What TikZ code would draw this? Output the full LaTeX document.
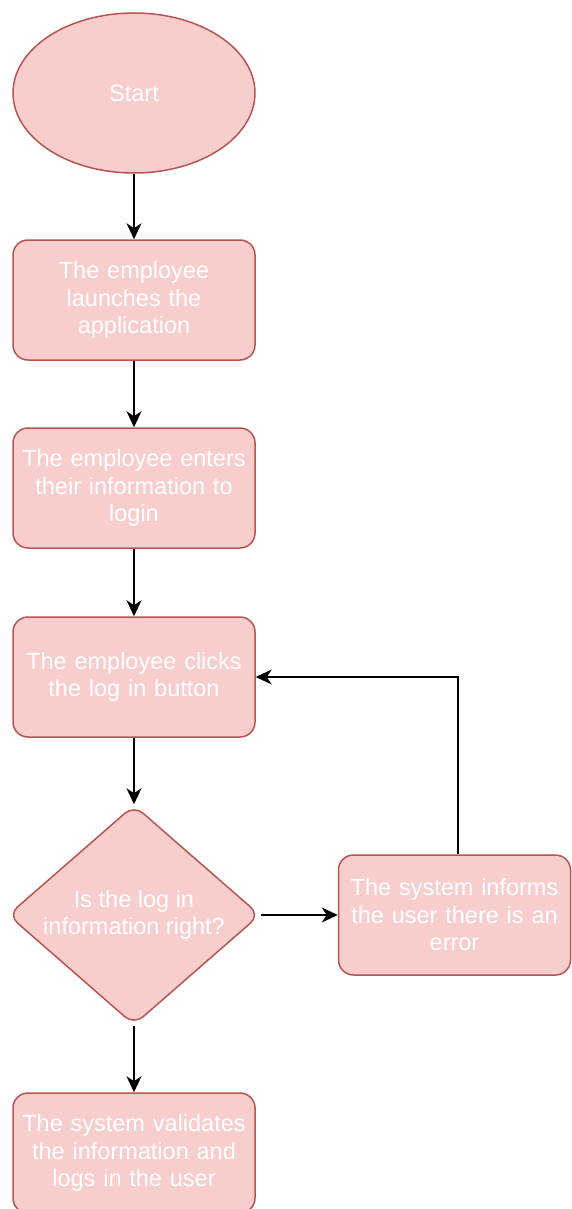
\documentclass[tikz,border=0pt]{standalone}
\usepackage{fontspec}
\setmainfont{Liberation Sans}
\usetikzlibrary{arrows.meta,shapes.geometric}
\definecolor{boxfill}{HTML}{F8CECC}
\definecolor{boxline}{HTML}{B85450}
\begin{document}
\begin{tikzpicture}[x=1pt,y=-1pt]
\tikzset{
  nodefont/.style={text=white, font=\fontsize{23.5}{27.5}\selectfont},
  flowbox/.style={draw=boxline, fill=boxfill, line width=1.5pt, rounded corners=15pt,
    minimum width=242pt, minimum height=120pt, text width=234pt, align=center,
    inner sep=0pt, nodefont},
  terminal/.style={ellipse, draw=boxline, fill=boxfill, line width=1.5pt,
    minimum width=242pt, minimum height=160pt, inner sep=0pt, nodefont},
  decision/.style={diamond, draw=boxline, fill=boxfill, line width=1.5pt,
    rounded corners=12pt, minimum width=252pt, minimum height=220pt, inner sep=0pt},
  plaintext/.style={align=center, inner sep=0pt, nodefont},
  flow/.style={draw=black, line width=1.9pt,
    -{Stealth[length=16pt, width=15pt, inset=5pt]}},
}
\useasboundingbox (0,0) rectangle (571,1209);

% nodes of the login flow
\node[terminal] (start) at (134,93) {Start};
\node[flowbox] (launch) at (134,300) {The employee\\launches the\\application};
\node[flowbox] (enter) at (134,488) {The employee enters\\their information to\\login};
\node[flowbox] (click) at (134,677) {The employee clicks\\the log in button};
\node[decision] (check) at (134,915) {};
\node[plaintext] (checktext) at (check.center) {Is the log in\\information right?};
\node[flowbox, minimum width=232pt, text width=226pt] (error) at (454.5,915)
  {The system informs\\the user there is an\\error};
\node[flowbox] (done) at (134,1153) {The system validates\\the information and\\logs in the user};

% connectors
\draw[flow] (start) -- (launch);
\draw[flow] (launch) -- (enter);
\draw[flow] (enter) -- (click);
\draw[flow] (click) -- (check.north);
\draw[flow] (check.south) -- (done);
\draw[flow] (check.east) -- (error);
\draw[flow] ([xshift=3.5pt]error.north) |- (click.east);
\end{tikzpicture}
\end{document}
